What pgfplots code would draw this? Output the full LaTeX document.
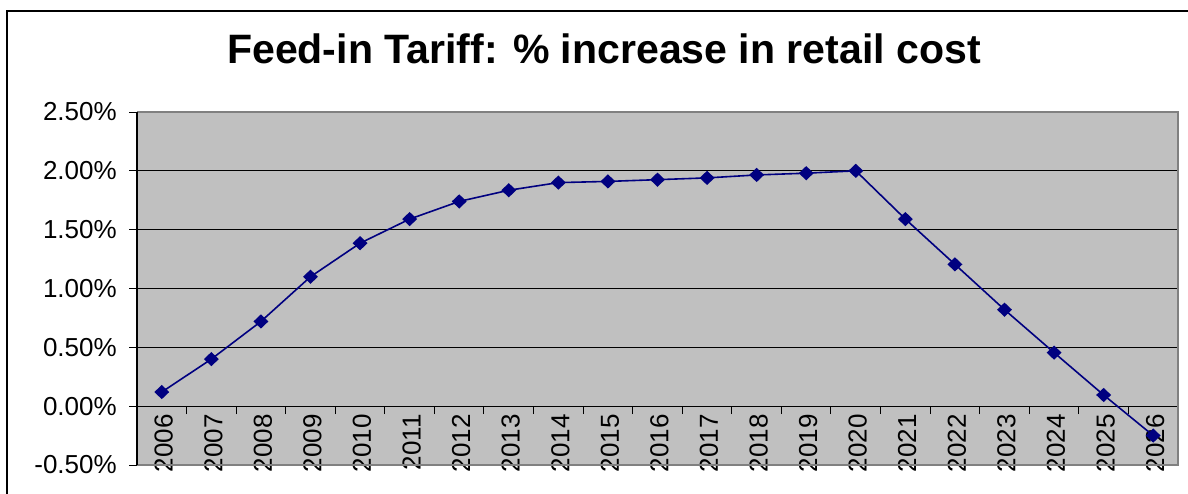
\documentclass[border=0pt]{standalone}
\usepackage{fontspec}
\setmainfont{Liberation Sans}
\usepackage{pgfplots}
\pgfplotsset{compat=1.18}
\definecolor{plotgray}{HTML}{C0C0C0}
\definecolor{framegray}{HTML}{808080}
\definecolor{navy}{HTML}{000080}

\begin{document}
\begin{tikzpicture}
	% page is 1188 x 493 px, 1 px = 0.75pt
	\useasboundingbox (0,0) rectangle (891pt,369.75pt);
	% outer chart frame (right and bottom edges fall outside the page)
	\draw[black, line width=1.5pt] (5.25pt,-20pt) -- (5.25pt,361.5pt) -- (920pt,361.5pt);
	\node[anchor=base, font=\bfseries\fontsize{30.8}{34}\selectfont] at (453pt,322pt)
		{Feed-in Tariff: \% increase in retail cost};

	\begin{axis}[
			at={(102.75pt,21pt)},
			anchor=south west,
			scale only axis,
			width=780.75pt,
			height=264.75pt,
			xmin=2005.5, xmax=2026.5,
			ymin=-0.5, ymax=2.5,
			axis x line*=middle,
			axis y line*=left,
			hide obscured x ticks=false,
			hide obscured y ticks=false,
			clip=false,
			axis background/.style={fill=plotgray},
			axis line style={black, line width=0.9pt},
			xtick={2006,...,2026},
			xticklabels={2006,2007,2008,2009,2010,2011,2012,2013,2014,2015,2016,2017,2018,2019,2020,2021,2022,2023,2024,2025,2026},
			major x tick style={draw=none},
			minor xtick={2005.5,2006.5,...,2026.5},
			minor x tick style={black, line width=0.75pt},
			minor tick length=6pt,
			tick align=outside,
			xticklabel style={rotate=90, anchor=east, inner sep=0pt, yshift=-1.5pt,
					font=\fontsize{19.5}{21}\selectfont},
			ytick={-0.5,0,0.5,1,1.5,2,2.5},
			yticklabels={-0.50\%,0.00\%,0.50\%,1.00\%,1.50\%,2.00\%,2.50\%},
			major y tick style={black, line width=0.75pt},
			major tick length=6pt,
			yticklabel style={anchor=east, inner sep=0pt, xshift=-9pt,
					font=\fontsize{19.5}{21}\selectfont},
			ymajorgrids,
			major grid style={black, line width=0.75pt},
		]
		\addplot[
			navy,
			line width=1.2pt,
			mark=diamond*,
			mark size=4.5pt,
			mark options={fill=navy, draw=navy, xscale=1.4},
		] coordinates {
    (2006, 0.12)
    (2007, 0.40)
    (2008, 0.72)
    (2009, 1.10)
    (2010, 1.385)
    (2011, 1.59)
    (2012, 1.74)
    (2013, 1.835)
    (2014, 1.90)
    (2015, 1.91)
    (2016, 1.925)
    (2017, 1.94)
    (2018, 1.965)
    (2019, 1.98)
    (2020, 2.00)
    (2021, 1.59)
    (2022, 1.205)
    (2023, 0.82)
    (2024, 0.455)
    (2025, 0.095)
    (2026, -0.25)
		};
		% plot area frame: grey on top, right and bottom
		\draw[framegray, line width=1.5pt]
			(rel axis cs:0,0) -- (rel axis cs:1,0) -- (rel axis cs:1,1) -- (rel axis cs:0,1);
		\draw[black, line width=0.9pt] (rel axis cs:0,0) -- (rel axis cs:0,1);
	\end{axis}
\end{tikzpicture}
\end{document}
